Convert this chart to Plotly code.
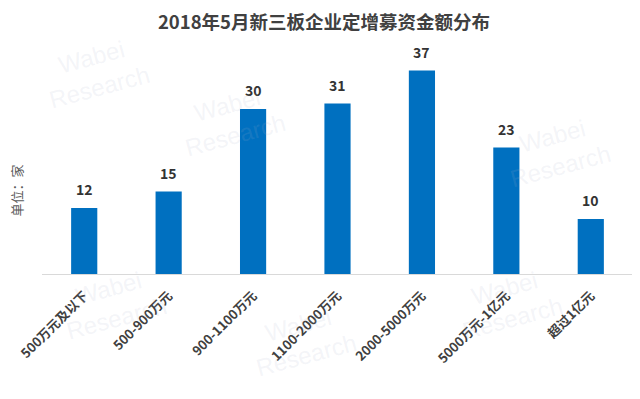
import plotly.graph_objects as go

categories = ["500万元及以下", "500-900万元", "900-1100万元", "1100-2000万元",
              "2000-5000万元", "5000万元-1亿元", "超过1亿元"]
values = [12, 15, 30, 31, 37, 23, 10]

title_text = "2018年5月新三板企业定增募资金额分布"
y_title = "单位：家"

FONT = "Microsoft YaHei, Noto Sans CJK SC, sans-serif"

fig = go.Figure()
fig.add_trace(go.Bar(
    x=categories, y=values,
    marker=dict(color="#0070C0", line=dict(width=0)),
    width=0.31,
    hoverinfo="x+y",
))

for c, v in zip(categories, values):
    fig.add_annotation(x=c, y=v, text=f"<b>{v}</b>", showarrow=False,
                       yanchor="bottom", yshift=7,
                       font=dict(size=14, color="#333333", family=FONT))

# faint watermarks (kept inside the page)
wm = [(0.09, 0.92), (0.32, 0.70), (0.87, 0.56), (0.12, -0.13), (0.44, -0.30), (0.79, -0.13)]
for (wx, wy) in wm:
    fig.add_annotation(xref="paper", yref="paper", x=wx, y=wy, text="Wabei<br>Research",
                       showarrow=False, textangle=-15, xanchor="center", yanchor="middle",
                       font=dict(size=24, color="rgba(170,180,205,0.14)", family="Arial, sans-serif"))

# y axis unit label
fig.add_annotation(xref="paper", yref="paper", x=-0.044, y=0.38, text=y_title,
                   showarrow=False, textangle=-90, xanchor="center", yanchor="middle",
                   font=dict(size=13, color="#595959", family=FONT))

fig.update_layout(
    width=632, height=391,
    margin=dict(l=34, r=7, t=46, b=125),
    paper_bgcolor="white", plot_bgcolor="white",
    title=dict(text=f"<b>{title_text}</b>", x=0.5, xanchor="center", y=0.962, yanchor="middle",
               font=dict(size=18.5, color="#404040", family=FONT)),
    showlegend=False,
    bargap=0.69,
)
fig.update_xaxes(
    tickangle=-45,
    tickfont=dict(size=13, color="#404040", family=FONT),
    tickprefix="<b>", ticksuffix="</b>",
    ticklabelstandoff=8,
    showline=True, linecolor="#D9D9D9", linewidth=1,
    ticks="", showgrid=False,
)
fig.update_yaxes(
    range=[0, 40], showticklabels=False, showgrid=False, zeroline=False,
    showline=False, ticks="",
)

fig.write_html("out.html")
